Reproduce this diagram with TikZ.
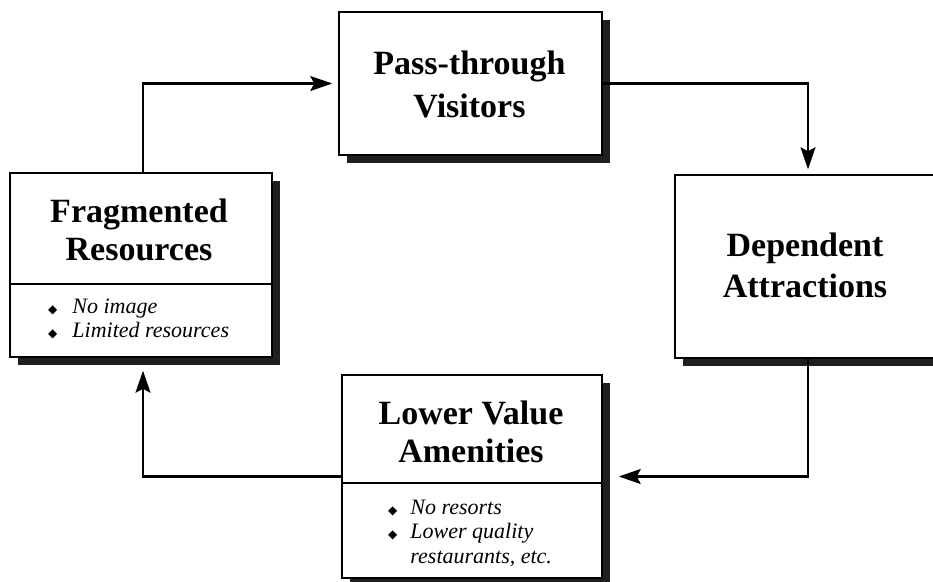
\documentclass[tikz,border=0pt]{standalone}
\usepackage{fontspec}
\setmainfont{Liberation Serif}
\newfontfamily\symfont{DejaVu Sans}
\usetikzlibrary{arrows.meta,shadows}

% small filled diamond used as list bullet
\newcommand\bul{{\symfont\fontsize{12}{12}\selectfont ◆}}

\tikzset{
  box/.style={draw=black, line width=1.5pt, fill=white, rectangle, inner sep=0pt,
    general shadow={fill=black!88, shadow xshift=8pt, shadow yshift=-8pt}},
  % multi-line nodes sit on the baseline of their last line
  title/.style={font=\bfseries\fontsize{34}{#1}\selectfont, align=center,
    anchor=base, inner sep=0pt},
  items/.style={font=\itshape\fontsize{22}{24.5}\selectfont, align=left,
    anchor=base west, inner sep=0pt},
  divider/.style={line width=1.4pt},
  conn/.style={line width=2.2pt, -{Stealth[length=22pt,width=15pt,inset=4pt]}},
}

\begin{document}
\begin{tikzpicture}[x=1pt, y=-1pt]
  \useasboundingbox (0,0) rectangle (933,581);

  % boxes
  \node[box, minimum width=263pt, minimum height=143pt] (pass) at (470.5,83.5) {};
  \node[box, minimum width=262pt, minimum height=184pt] (frag) at (141,265) {};
  \node[box, minimum width=266pt, minimum height=183pt] (dep) at (808,266.5) {};
  \node[box, minimum width=260pt, minimum height=203pt] (low) at (472,476.5) {};

  % dividers between headings and lists
  \coordinate (fragdiv) at (0,284);
  \coordinate (lowdiv) at (0,483);
  \draw[divider] (frag.west |- fragdiv) -- (frag.east |- fragdiv);
  \draw[divider] (low.west |- lowdiv) -- (low.east |- lowdiv);

  % headings
  \node[title=43] (passT) at (469.5,117) {Pass-through\\Visitors};
  \node[title=38] (fragT) at (139,260) {Fragmented\\Resources};
  \node[title=41] (depT) at (805,297) {Dependent\\Attractions};
  \node[title=38] (lowT) at (471,462) {Lower Value\\Amenities};

  % bullet lists
  \node[items] (fragL) at (48,337.8)
    {\bul\hspace{15pt}No image\\ \bul\hspace{15pt}Limited resources};
  \node[items] (lowL) at (388,563)
    {\bul\hspace{13pt}No resorts\\ \bul\hspace{13pt}Lower quality\\
     \phantom{\bul}\hspace{13pt}restaurants, etc.};

  % cycle connectors
  \draw[conn, shorten >=6pt] ([xshift=2pt]frag.north) |- (pass.west);
  \draw[conn, shorten >=5pt] (pass.east) -| (dep.north);
  \draw[conn, shorten >=16pt] (dep.south) |- (low.east);
  \draw[conn, shorten >=13pt] (low.west) -| ([xshift=2pt]frag.south);
\end{tikzpicture}
\end{document}
